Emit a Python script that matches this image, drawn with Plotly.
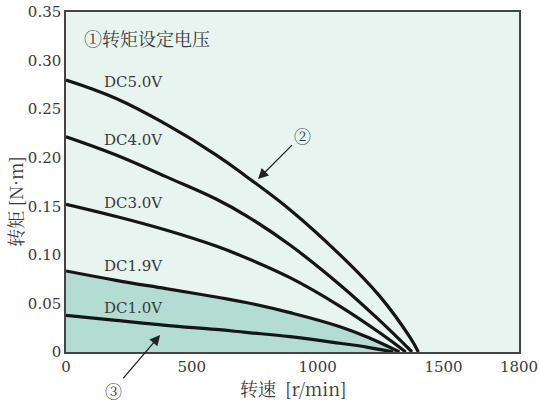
import plotly.graph_objects as go

# Data (speed r/min, torque N·m)
x_dc50 = [0, 199, 397, 596, 715, 890, 1089, 1248, 1367, 1400]
y_dc50 = [0.280, 0.261, 0.2345, 0.2030, 0.1810, 0.1465, 0.1000, 0.0570, 0.0150, 0.0]

x_dc40 = [0, 199, 397, 596, 715, 890, 1089, 1248, 1375]
y_dc40 = [0.2216, 0.2028, 0.1805, 0.1575, 0.1405, 0.1101, 0.069, 0.032, 0.0]

x_dc30 = [0, 199, 397, 596, 691, 890, 1089, 1248, 1350]
y_dc30 = [0.152, 0.1395, 0.1255, 0.1090, 0.0995, 0.0765, 0.0470, 0.0195, 0.0]

x_dc19 = [0, 199, 397, 596, 715, 890, 1089, 1208, 1325]
y_dc19 = [0.0834, 0.0738, 0.0652, 0.0566, 0.0510, 0.0405, 0.026, 0.0141, 0.0]

x_dc10 = [0, 199, 397, 596, 715, 890, 1089, 1200, 1300]
y_dc10 = [0.0378, 0.0326, 0.0275, 0.0232, 0.0202, 0.0158, 0.009, 0.0048, 0.0]

series_names = ["DC5.0V", "DC4.0V", "DC3.0V", "DC1.9V", "DC1.0V"]
label_y = [0.278, 0.218, 0.153, 0.0885, 0.0453]
label_x = 143

x_ticks = [0, 500, 1000, 1500, 1800]
x_ticktext = ["0", "500", "1000", "1500", "1800"]
y_ticks = [0, 0.05, 0.10, 0.15, 0.20, 0.25, 0.30, 0.35]
y_ticktext = ["0", "0.05", "0.10", "0.15", "0.20", "0.25", "0.30", "0.35"]

SERIF = "DejaVu Serif, serif"
CJK = "Noto Serif CJK SC, DejaVu Serif, Noto Sans CJK SC"
TXT = "#3a3a3a"

fig = go.Figure()

# Filled area under DC1.9V
fig.add_trace(go.Scatter(x=x_dc19, y=y_dc19, mode="lines", fill="tozeroy",
                         fillcolor="#b3ddd3", line=dict(color="rgba(0,0,0,0)", shape="spline", smoothing=1.2),
                         hoverinfo="skip", showlegend=False))

for xs, ys, nm in [(x_dc50, y_dc50, series_names[0]), (x_dc40, y_dc40, series_names[1]),
                   (x_dc30, y_dc30, series_names[2]), (x_dc19, y_dc19, series_names[3]),
                   (x_dc10, y_dc10, series_names[4])]:
    fig.add_trace(go.Scatter(x=xs, y=ys, mode="lines", name=nm,
                             line=dict(color="#151515", width=3.2, shape="spline", smoothing=1.2),
                             showlegend=False))

annotations = []
for nm, ly in zip(series_names, label_y):
    annotations.append(dict(x=label_x, y=ly, xref="x", yref="y", text=nm, showarrow=False,
                            xanchor="left", yanchor="middle",
                            font=dict(family=SERIF, size=15, color=TXT)))

annotations.append(dict(x=64, y=0.323, xref="x", yref="y", text="①转矩设定电压", showarrow=False,
                        xanchor="left", yanchor="middle",
                        font=dict(family=CJK, size=18, color=TXT)))

annotations.append(dict(x=763, y=0.178, xref="x", yref="y", text="②", showarrow=True,
                        ax=44, ay=-44, arrowhead=2, arrowsize=1.6, arrowwidth=1.3, arrowcolor="#222",
                        font=dict(family=CJK, size=17, color=TXT)))
annotations.append(dict(x=374, y=0.0175, xref="x", yref="y", text="③", showarrow=True,
                        ax=-47, ay=55, arrowhead=2, arrowsize=1.6, arrowwidth=1.3, arrowcolor="#222",
                        font=dict(family=CJK, size=17, color=TXT)))

annotations.append(dict(x=0.501, y=-0.106, xref="paper", yref="paper", text="转速  [r/min]",
                        showarrow=False, xanchor="center", yanchor="middle",
                        font=dict(family=CJK, size=18, color=TXT)))
annotations.append(dict(x=-0.113, y=0.444, xref="paper", yref="paper", text="转矩 [N·m]",
                        showarrow=False, xanchor="center", yanchor="middle", textangle=-90,
                        font=dict(family=CJK, size=18, color=TXT)))

fig.update_layout(
    width=539, height=402,
    margin=dict(l=66, r=20, t=12, b=50),
    paper_bgcolor="white",
    plot_bgcolor="#e7f4f0",
    annotations=annotations,
    xaxis=dict(range=[0, 1800], tickvals=x_ticks, ticktext=x_ticktext, showgrid=False, zeroline=False,
               showline=True, linecolor="#444", linewidth=1.5, mirror=True, ticks="", automargin=False,
               ticklabeloverflow="allow",
               tickfont=dict(family=SERIF, size=15, color=TXT)),
    yaxis=dict(range=[0, 0.35], tickvals=y_ticks, ticktext=y_ticktext, showgrid=False, zeroline=False,
               showline=True, linecolor="#444", linewidth=1.5, mirror=True, ticks="", automargin=False,
               ticklabeloverflow="allow",
               tickfont=dict(family=SERIF, size=15, color=TXT)),
)

fig.write_html("out.html", config={"displayModeBar": False},
               post_script="document.body.style.margin='0';document.body.style.overflow='hidden';")
